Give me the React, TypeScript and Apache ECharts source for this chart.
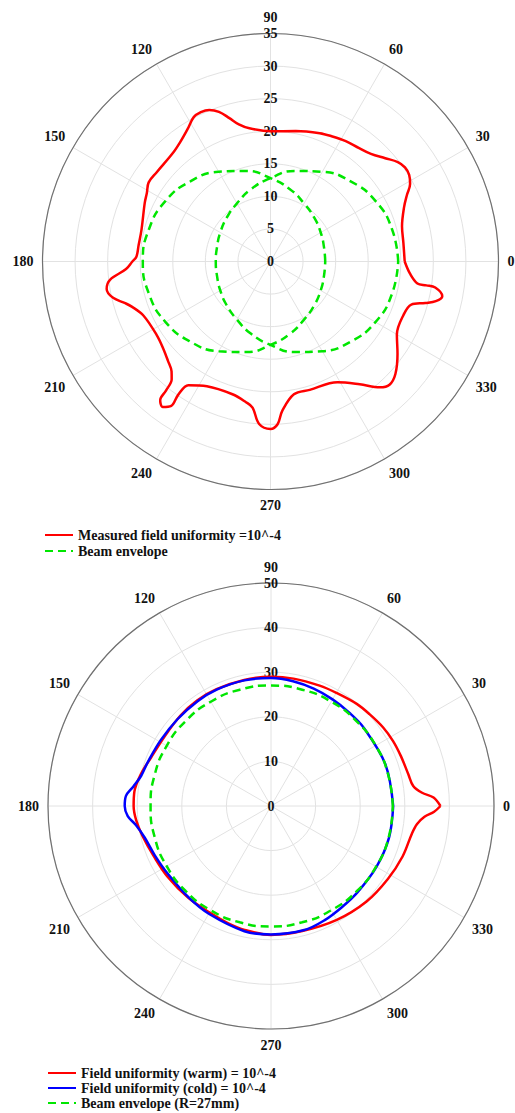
import React, { useEffect, useRef } from "react";
import * as echarts from "echarts";

// ---------- Top chart data (angle in degrees, radius) ----------
const measuredAngle = [
  0, 8, 15, 22, 26, 29, 32, 35, 38, 42, 47, 52, 58, 64, 69, 79, 90, 99, 103, 106,
  109, 112, 115, 118, 122, 127, 132, 142, 147, 151, 155, 166, 173, 178, 180, 183,
  186.5, 189.5, 193, 196, 198, 203, 213, 219, 224, 228, 230, 231, 231.5, 233.5,
  235.5, 235.3, 236.4, 243, 254, 260, 263, 266, 270, 272.5, 274.5, 280, 287, 299,
  306, 311, 314, 318, 324, 330, 338, 343, 345, 346.5, 348.6, 351, 351.3, 351.5,
  355, 360,
];
const measuredR = [
  20.6, 20.6, 20.9, 22.1, 23.3, 24.5, 25.1, 25.2, 24.8, 23.7, 22.6, 22.1, 21.8,
  21.4, 21.1, 20.4, 20.0, 20.7, 21.6, 22.9, 24.3, 25.1, 25.3, 25.1, 24.0, 23.0,
  22.4, 22.2, 22.3, 21.7, 21.3, 20.4, 20.4, 20.6, 21.2, 22.2, 24.8, 25.5, 24.8,
  23.2, 22.4, 21.2, 20.8, 21.2, 21.9, 22.7, 23.6, 25.5, 27.2, 27.8, 26.9, 24.9,
  22.8, 21.5, 21.2, 21.9, 22.6, 25.0, 25.7, 25.0, 23.0, 20.7, 20.6, 21.2, 23.3,
  25.6, 26.3, 25.8, 24.1, 22.4, 22.0, 22.6, 24.6, 26.1, 26.9, 25.6, 24.2, 22.8,
  21.5, 20.6,
];
const envelopeAngle = [
  0, 15, 30, 45, 60, 75, 90, 105, 120, 135, 150, 165, 180, 195, 210, 225, 240,
  255, 270, 285, 300, 315, 330, 345, 360,
];
const envelopeRightR = [
  19.6, 19.3, 18.6, 17.4, 15.9, 14.4, 12.8, 11.5, 10.3, 9.5, 8.9, 8.5, 8.4, 8.5,
  8.9, 9.5, 10.3, 11.5, 12.8, 14.4, 15.9, 17.4, 18.6, 19.3, 19.6,
];
const envelopeLeftR = [
  8.4, 8.5, 8.9, 9.5, 10.3, 11.5, 12.8, 14.4, 15.9, 17.4, 18.6, 19.3, 19.6, 19.3,
  18.6, 17.4, 15.9, 14.4, 12.8, 11.5, 10.3, 9.5, 8.9, 8.5, 8.4,
];

// ---------- Bottom chart data ----------
const warmAngle = [
  0, 3, 5, 8, 13, 21, 28, 35, 43, 50, 60, 68, 80, 90, 102, 115, 125, 135, 147,
  158, 166, 174, 180, 186, 193, 203, 214, 228, 241, 250, 258, 270, 284, 300, 315,
  328, 339, 349, 353, 356, 358, 360,
];
const warmR = [
  38.0, 36.5, 34.0, 32.2, 31.6, 31.2, 31.0, 30.7, 30.2, 29.9, 29.3, 29.1, 29.0,
  29.0, 28.9, 28.9, 28.9, 28.7, 28.5, 29.0, 30.0, 30.8, 30.8, 30.4, 29.6, 28.6,
  28.1, 27.7, 27.6, 28.0, 28.4, 28.9, 28.9, 29.5, 30.3, 30.9, 31.6, 32.2, 33.0,
  34.5, 36.6, 38.0,
];
const coldAngle = [
  0, 20, 40, 50, 60, 70, 80, 90, 102, 115, 125, 137, 149, 160, 167, 172, 176,
  180, 184, 188, 194, 203, 213, 228, 240, 258, 270, 285, 295, 305, 315, 330, 345,
  360,
];
const coldR = [
  27.4, 27.3, 27.2, 27.3, 27.6, 28.0, 28.4, 28.7, 28.8, 28.8, 28.7, 28.6, 28.8,
  29.3, 29.9, 31.2, 32.6, 32.8, 32.2, 30.6, 29.2, 28.3, 27.7, 27.6, 27.9, 28.7,
  28.8, 28.8, 28.3, 27.7, 27.4, 27.3, 27.4, 27.4,
];
const beamAngle = [
  0, 15, 30, 45, 60, 75, 90, 105, 120, 135, 150, 165, 180, 195, 210, 225, 240,
  255, 270, 285, 300, 315, 330, 345, 360,
];
const beamR = [
  27.3, 27.2, 27.1, 27.0, 27.0, 27.0, 27.0, 27.0, 27.0, 27.0, 27.0, 27.0, 27.0,
  27.0, 27.0, 27.0, 27.0, 27.0, 27.0, 27.0, 27.0, 27.1, 27.2, 27.3, 27.3,
];

const topRadiusMax = 35;
const topRadiusStep = 5;
const bottomRadiusMax = 50;
const bottomRadiusStep = 10;

const topNames = ["Measured field uniformity =10^-4", "Beam envelope"];
const bottomNames = [
  "Field uniformity (warm) = 10^-4",
  "Field uniformity (cold) = 10^-4",
  "Beam envelope (R=27mm)",
];

const FONT = "Liberation Serif, serif";

function pairs(angles: number[], radii: number[]) {
  return angles.map((a, i) => [radii[i], a]);
}

export default function App() {
  const ref = useRef<HTMLDivElement>(null);

  useEffect(() => {
    if (!ref.current) return;
    const chart = echarts.init(ref.current, null, { renderer: "svg" });
    const labelStyle = {
      fontFamily: FONT,
      fontWeight: "bold" as const,
      fontSize: 14,
      color: "#111",
    };
    const topCenter = [270.5, 261.5];
    const topRadius = 228;
    const botCenter = [271, 806];
    const botRadius = 223;

    const angleMain = (idx: number) => ({
      polarIndex: idx,
      type: "value",
      min: 0,
      max: 360,
      interval: 30,
      startAngle: 0,
      clockwise: false,
      axisLine: { show: true, lineStyle: { color: "#707070", width: 1.2 } },
      axisTick: { show: false },
      axisLabel: {
        ...labelStyle,
        margin: 9,
        formatter: (v: number) => (v === 360 ? "" : String(v)),
      },
      splitLine: { show: true, lineStyle: { color: "#e2e2e2", width: 1 } },
    });
    const angleHidden = (idx: number) => ({
      polarIndex: idx,
      type: "value",
      min: 0,
      max: 360,
      startAngle: 90,
      clockwise: false,
      show: false,
    });
    const radiusMain = (idx: number, max: number, step: number) => ({
      polarIndex: idx,
      type: "value",
      min: 0,
      max,
      interval: step,
      axisLine: { show: false },
      axisTick: { show: false },
      axisLabel: { show: false },
      splitLine: { show: true, lineStyle: { color: "#e2e2e2", width: 1 } },
    });
    const radiusLabels = (idx: number, max: number, step: number) => ({
      polarIndex: idx,
      type: "value",
      min: 0,
      max,
      interval: step,
      axisLine: { show: false },
      axisTick: { show: false },
      splitLine: { show: false },
      axisLabel: {
        ...labelStyle,
        margin: 0,
        align: "center",
        verticalAlign: "middle",
        showMinLabel: true,
        showMaxLabel: true,
        hideOverlap: false,
      },
    });

    const red = "#ff0000";
    const green = "#00e600";
    const blue = "#0000ff";

    const legendCommon = {
      orient: "vertical",
      itemWidth: 28,
      itemHeight: 14,
      height: 80,
      padding: 0,
      itemStyle: { opacity: 0, color: "rgba(0,0,0,0)", borderWidth: 0 },
      textStyle: { ...labelStyle, fontSize: 14 },
    };

    chart.setOption({
      animation: false,
      backgroundColor: "#ffffff",
      textStyle: { fontFamily: FONT },
      polar: [
        { center: topCenter, radius: topRadius },
        { center: topCenter, radius: topRadius },
        { center: botCenter, radius: botRadius },
        { center: botCenter, radius: botRadius },
      ],
      angleAxis: [angleMain(0), angleHidden(1), angleMain(2), angleHidden(3)],
      radiusAxis: [
        radiusMain(0, topRadiusMax, topRadiusStep),
        radiusLabels(1, topRadiusMax, topRadiusStep),
        radiusMain(2, bottomRadiusMax, bottomRadiusStep),
        radiusLabels(3, bottomRadiusMax, bottomRadiusStep),
      ],
      legend: [
        {
          ...legendCommon,
          data: topNames,
          left: 44,
          top: 528,
          itemGap: 2,
        },
        {
          ...legendCommon,
          data: bottomNames,
          left: 47,
          top: 1066,
          itemGap: 1,
        },
      ],
      series: [
        {
          type: "line",
          name: topNames[0],
          coordinateSystem: "polar",
          polarIndex: 0,
          data: pairs(measuredAngle, measuredR),
          smooth: 0.35,
          symbol: "none",
          lineStyle: { color: red, width: 2.5 },
          itemStyle: { color: red },
        },
        {
          type: "line",
          name: topNames[1],
          coordinateSystem: "polar",
          polarIndex: 0,
          data: pairs(envelopeAngle, envelopeLeftR),
          smooth: true,
          symbol: "none",
          lineStyle: { color: green, width: 2.5, type: [8, 5] },
          itemStyle: { color: green },
        },
        {
          type: "line",
          name: topNames[1],
          coordinateSystem: "polar",
          polarIndex: 0,
          data: pairs(envelopeAngle, envelopeRightR),
          smooth: true,
          symbol: "none",
          lineStyle: { color: green, width: 2.5, type: [8, 5] },
          itemStyle: { color: green },
        },
        {
          type: "line",
          name: bottomNames[0],
          coordinateSystem: "polar",
          polarIndex: 2,
          data: pairs(warmAngle, warmR),
          smooth: 0.35,
          symbol: "none",
          lineStyle: { color: red, width: 2.5 },
          itemStyle: { color: red },
        },
        {
          type: "line",
          name: bottomNames[1],
          coordinateSystem: "polar",
          polarIndex: 2,
          data: pairs(coldAngle, coldR),
          smooth: 0.35,
          symbol: "none",
          lineStyle: { color: blue, width: 2.5 },
          itemStyle: { color: blue },
        },
        {
          type: "line",
          name: bottomNames[2],
          coordinateSystem: "polar",
          polarIndex: 2,
          data: pairs(beamAngle, beamR),
          smooth: true,
          symbol: "none",
          lineStyle: { color: green, width: 2.5, type: [8, 5] },
          itemStyle: { color: green },
        },
      ],
    });

    return () => chart.dispose();
  }, []);

  return (
    <div
      ref={ref}
      style={{ position: "absolute", left: 0, top: 0, width: 515, height: 1113 }}
    />
  );
}
